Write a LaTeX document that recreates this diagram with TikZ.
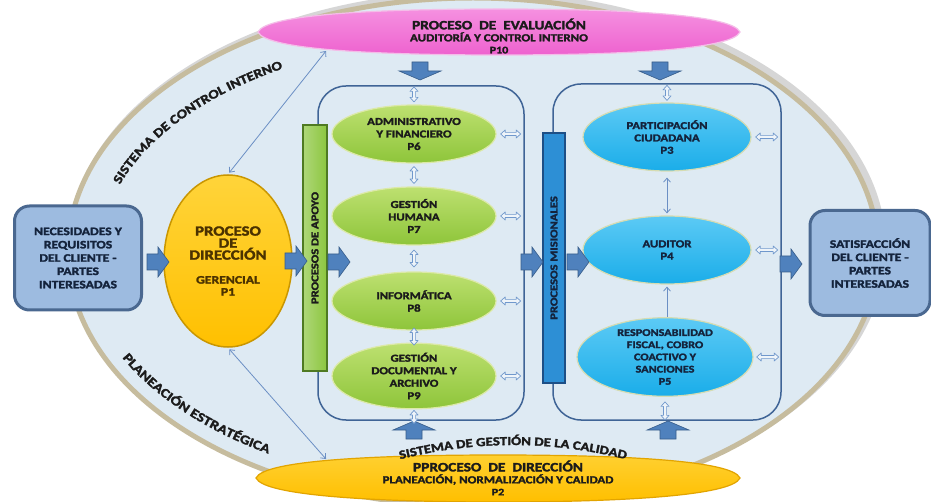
\documentclass[tikz,border=0pt]{standalone}
\usepackage{fontspec}
\setmainfont{Carlito}[FakeStretch=1.2, BoldFont={Carlito Bold}, BoldFeatures={FakeBold=2.2}]
\usetikzlibrary{shapes.geometric,arrows.meta,decorations.text,calc}
\definecolor{bgblue}{HTML}{DEEAF3}
\definecolor{bordertan}{HTML}{C6BC9E}
\definecolor{greenfill}{HTML}{8EC53A}
\definecolor{greenlight}{HTML}{BDE070}
\definecolor{greenedge}{HTML}{DCE9A8}
\definecolor{cyanfill}{HTML}{1AADE9}
\definecolor{cyanlight}{HTML}{5CCAF5}
\definecolor{cyanedge}{HTML}{D6DCB2}
\definecolor{frameblue}{HTML}{3F6496}
\definecolor{blockblue}{HTML}{4F81BD}
\definecolor{blockedge}{HTML}{385D8A}
\definecolor{arrowblue}{HTML}{7098CC}
\definecolor{thinblue}{HTML}{6B8FC4}
\definecolor{boxfill}{HTML}{9DBBE0}
\definecolor{boxedge}{HTML}{4A6890}
\definecolor{darktext}{HTML}{1B1B1B}
\definecolor{boxtext}{HTML}{14233C}
\definecolor{ptext}{HTML}{4B3200}
\definecolor{magfill}{HTML}{EE62CF}
\definecolor{maglight}{HTML}{F590E0}
\definecolor{magedge}{HTML}{F4BDE8}
\definecolor{yelfill}{HTML}{FFBF00}
\definecolor{yellight}{HTML}{FFD030}
\definecolor{yeledge}{HTML}{E2A400}
\definecolor{ponefill}{HTML}{FFC000}
\definecolor{ponelight}{HTML}{FFD43A}
\definecolor{poneedge}{HTML}{C99600}
\definecolor{greenbar}{HTML}{8CC63F}
\definecolor{greenbaredge}{HTML}{4F7A22}
\definecolor{bluebar}{HTML}{2D8FD5}
\definecolor{bluebaredge}{HTML}{1D4F86}
\begin{document}
\begin{tikzpicture}[x=1pt,y=-1pt,
  greenell/.style={ellipse, draw=greenedge, line width=1.2pt, top color=greenlight, bottom color=greenfill, minimum width=164pt, minimum height=58pt, inner sep=0pt, align=center, text=darktext, font=\bfseries\fontsize{10.6}{12.5}\selectfont},
  cyanell/.style={ellipse, draw=cyanedge, line width=1.2pt, top color=cyanlight, bottom color=cyanfill, minimum width=168pt, minimum height=68pt, inner sep=0pt, align=center, text=boxtext, font=\bfseries\fontsize{10.6}{12.3}\selectfont},
  cbox/.style={draw=boxedge, line width=3pt, fill=boxfill, rounded corners=15pt, inner sep=0pt, align=center, text=boxtext, font=\bfseries\fontsize{11.4}{13.3}\selectfont},
  framebox/.style={draw=frameblue, line width=1.5pt, rounded corners=28pt, inner sep=0pt},
  bar/.style={line width=1.2pt, rotate=90, inner sep=0pt, minimum height=24pt},
  thinarr/.style={draw=thinblue, line width=0.8pt, {Straight Barb[length=4pt,width=7pt]}-{Straight Barb[length=4pt,width=7pt]}},
  thinone/.style={draw=thinblue, line width=0.8pt, -{Straight Barb[length=4pt,width=7pt]}},
  lenstext/.style={align=center, inner sep=0pt},
  pics/dbl/.style={code={\draw[draw=arrowblue, line width=0.7pt, fill=bgblue!50!white, line join=round]
     ({-#1/2},0) -- ({-#1/2+4.5},-4) -- ({-#1/2+4.5},-1.6) -- ({#1/2-4.5},-1.6) -- ({#1/2-4.5},-4) -- ({#1/2},0)
     -- ({#1/2-4.5},4) -- ({#1/2-4.5},1.6) -- ({-#1/2+4.5},1.6) -- ({-#1/2+4.5},4) -- cycle;}},
  pics/harr/.style={code={\draw[fill=blockblue, draw=blockedge, line width=0.6pt] (-11,-8) -- (0,-8) -- (0,-15) -- (11,0) -- (0,15) -- (0,8) -- (-11,8) -- cycle;}},
  pics/varr/.style={code={\draw[fill=blockblue, draw=blockedge, line width=0.6pt] (-9,-8) -- (0,-8) -- (0,-21) -- (9,0) -- (0,21) -- (0,8) -- (-9,8) -- cycle;}}
]
\fill[white] (0,0) rectangle (931,502);
\useasboundingbox (0,0) rectangle (931,502);
% big background ellipse
\fill[black!16] (477,248) ellipse [x radius=409, y radius=257];
\draw[bordertan, line width=5pt, fill=bgblue] (473,252) ellipse [x radius=405, y radius=254];

% curved texts
\path[decorate, decoration={text along path, text align=center, text color=darktext,
  text={|\bfseries\fontsize{12.8}{12}\selectfont|SISTEMA DE CONTROL INTERNO}}]
  plot[domain=112:174, samples=32] ({470+370*cos(286-\x)}, {254-215*sin(286-\x)});
\path[decorate, decoration={text along path, text align=center, text color=darktext,
  text={|\bfseries\fontsize{13}{12}\selectfont|PLANEACIÓN ESTRATÉGICA}}]
  plot[domain=200:244, samples=22] ({470+390*cos(\x)}, {250-238*sin(\x)});

% frames
\node[framebox, minimum width=206pt, minimum height=334pt] (frameA) at (421,253) {};
\node[framebox, minimum width=228pt, minimum height=336pt] (frameB) at (667,252) {};

% bars
\node[bar, draw=greenbaredge, top color=greenbar!70!white, bottom color=greenbar, shading angle=90, minimum width=246pt,
  text=darktext, font=\bfseries\fontsize{10.5}{11}\selectfont] (apoyo) at (315,248) {PROCESOS DE APOYO};
\node[bar, draw=bluebaredge, fill=bluebar, minimum width=250pt, minimum height=22pt,
  text=boxtext, font=\bfseries\fontsize{10.5}{11}\selectfont] (misional) at (554,258) {PROCESOS MISIONALES};

% top and bottom lens ellipses
\path[draw=magedge, line width=1.2pt, top color=maglight, bottom color=magfill]
  (258,32) .. controls (266,14) and (380,9) .. (499,9) .. controls (618,9) and (732,14) .. (740,32)
  .. controls (732,50) and (618,55) .. (499,55) .. controls (380,55) and (266,50) .. cycle;
\node[lenstext, text=darktext] (p10) at (499,36)
  {\bfseries\fontsize{12.8}{14}\selectfont PROCESO\ \ DE\ \ EVALUACIÓN\\
   \bfseries\fontsize{10.8}{13}\selectfont AUDITORÍA Y CONTROL INTERNO\\
   \bfseries\fontsize{10}{13}\selectfont P10};
\path[draw=yeledge, line width=1.2pt, top color=yellight, bottom color=yelfill]
  (256,478) .. controls (264,460) and (378,455) .. (498,455) .. controls (618,455) and (732,460) .. (740,478)
  .. controls (732,496) and (618,502) .. (498,502) .. controls (378,502) and (264,496) .. cycle;
\node[lenstext, text=darktext] (p2) at (498,478)
  {\bfseries\fontsize{12.8}{14}\selectfont PPROCESO\ \ DE\ \ DIRECCIÓN\\
   \bfseries\fontsize{10.8}{13}\selectfont PLANEACIÓN, NORMALIZACIÓN Y CALIDAD\\
   \bfseries\fontsize{10}{13}\selectfont P2};
\path[decorate, decoration={text along path, text align=center, text color=darktext,
  text={|\bfseries\fontsize{12.3}{11}\selectfont|SISTEMA DE GESTIÓN DE LA CALIDAD}}]
  plot[domain=0:1, samples=24] ({386+254*\x}, {463-72*\x*(1-\x)});

% side boxes
\node[cbox, minimum width=127pt, minimum height=104pt] (lbox) at (78,258)
  {NECESIDADES Y\\REQUISITOS\\DEL CLIENTE -\\PARTES\\INTERESADAS};
\node[cbox, minimum width=120pt, minimum height=105pt] (rbox) at (870,263)
  {SATISFACCIÓN\\DEL CLIENTE -\\PARTES\\INTERESADAS};

% P1
\node[ellipse, draw=poneedge, line width=1.5pt, top color=ponelight, bottom color=ponefill,
  minimum width=128pt, minimum height=172pt, inner sep=0pt, align=center, text=ptext] (p1) at (228,261)
  {\bfseries\fontsize{14}{14.5}\selectfont PROCESO\\
   \bfseries\fontsize{14}{14.5}\selectfont DE\\
   \bfseries\fontsize{14}{14.5}\selectfont DIRECCIÓN\\[12pt]
   \bfseries\fontsize{11.4}{13}\selectfont GERENCIAL\\
   \bfseries\fontsize{11.4}{13}\selectfont P1};

% green processes
\node[greenell] (p6) at (414,134) {ADMINISTRATIVO\\Y FINANCIERO\\P6};
\node[greenell] (p7) at (414,216) {GESTIÓN\\HUMANA\\P7};
\node[greenell] (p8) at (414,301) {INFORMÁTICA\\P8};
\node[greenell] (p9) at (414,376) {GESTIÓN\\DOCUMENTAL Y\\ARCHIVO\\P9};

% cyan processes
\node[cyanell] (p3) at (667,137) {PARTICIPACIÓN\\CIUDADANA\\P3};
\node[cyanell] (p4) at (667,250) {AUDITOR\\P4};
\node[cyanell, minimum width=176pt, minimum height=70pt, font=\bfseries\fontsize{10.2}{12.2}\selectfont] (p5) at (665,357)
  {RESPONSABILIDAD\\FISCAL, COBRO\\COACTIVO Y\\SANCIONES\\P5};

% block arrows
\pic at (158,262) {harr};
\pic at (296,261) {harr};
\pic at (339,262) {harr};
\pic at (532,262) {harr};
\pic at (578,262) {harr};
\pic at (791,264) {harr};
\pic[rotate=-90] at (420,71) {varr};
\pic[rotate=-90] at (660,71) {varr};
\pic[rotate=90] at (414,430) {varr};
\pic[rotate=90] at (668,430) {varr};

% small hollow arrows, support processes
\pic[rotate=90] at ($(p6.north)+(0,-10)$) {dbl=15};
\pic[rotate=90] at ($(p6.south)!0.5!(p7.north)$) {dbl=17};
\pic[rotate=90] at ($(p7.south)!0.5!(p8.north)$) {dbl=17};
\pic[rotate=90] at ($(p8.south)!0.5!(p9.north)$) {dbl=17};
\pic[rotate=90] at ($(p9.south)+(0,7.5)$) {dbl=13};
\foreach \n in {p6,p7,p8,p9} \pic at ($(\n.east)!0.5!(\n.east -| frameA.east)$) {dbl=20};

% mission processes
\pic[rotate=90] at ($(p3.north)+(0,-9.5)$) {dbl=15};
\draw[thinarr, shorten <=6pt, shorten >=2pt] (p3.south) -- (p4.north);
\draw[thinone, shorten >=2pt] (p5.north -| p4.south) -- (p4.south);
\pic[rotate=90] at ($(p5.south)+(0,14)$) {dbl=18};
\foreach \n in {p3,p4,p5} \pic at ($(\n.east)!0.5!(\n.east -| frameB.east)$) {dbl=22};

% diagonal links
\coordinate (p10sw) at (326,51);
\coordinate (p2nw) at (326,459);
\draw[thinarr, shorten >=2pt] (p10sw) -- (p1.north);
\draw[thinarr, shorten <=2pt] (p1.south) -- (p2nw);
\end{tikzpicture}
\end{document}
